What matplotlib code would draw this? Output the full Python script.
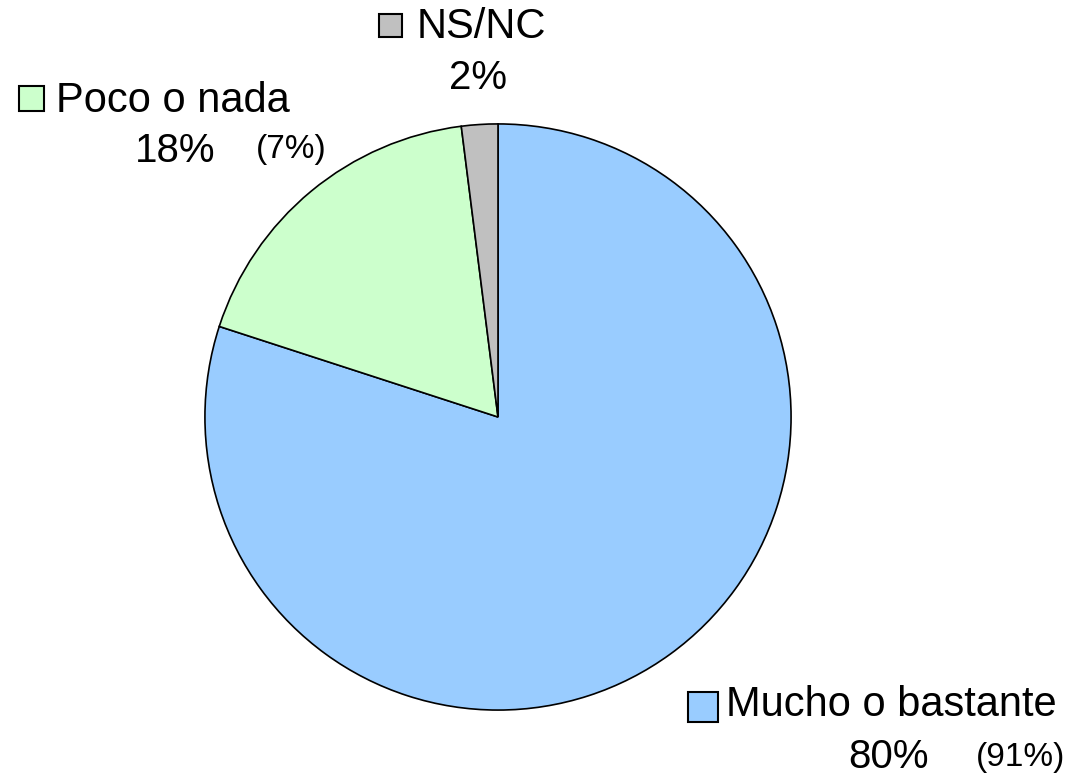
import matplotlib.pyplot as plt
from matplotlib.patches import Rectangle

plt.rcParams['font.family'] = ['Liberation Sans', 'DejaVu Sans']

categorias = ['Mucho o bastante', 'Poco o nada', 'NS/NC']
valores = [80, 18, 2]
previos = ['(91%)', '(7%)', '']
colores = ['#99CCFF', '#CCFFCC', '#C0C0C0']

W, H = 1077, 778
fig = plt.figure(figsize=(W / 100, H / 100), dpi=100)

# pie centre and radius in pixels
cx, cy, r = 498, 417, 296
ax = fig.add_axes([(cx - r) / W, (H - cy - r) / H, 2 * r / W, 2 * r / H])
ax.pie(valores, colors=colores, startangle=90, counterclock=False,
       wedgeprops=dict(edgecolor='black', linewidth=1.2))
ax.set_xlim(-1.01, 1.01)
ax.set_ylim(-1.01, 1.01)
ax.set_aspect('equal')
ax.axis('off')


def px(x, y):
    return x / W, 1 - y / H


# label layout: square box, name, percentage, previous value (pixel coords)
cajas = [(688, 692, 30), (19, 86, 25), (379, 14, 23)]
nombres = [(726, 716), (56, 112), (417, 38)]
pcts = [(889, 768), (175, 162), (478, 89)]
prevs = [(1021, 766), (291, 158), (0, 0)]

for i in range(len(categorias)):
    bx, by, bs = cajas[i]
    x0, y0 = px(bx, by + bs)
    fig.add_artist(Rectangle((x0, y0), bs / W, bs / H, transform=fig.transFigure,
                             facecolor=colores[i], edgecolor='black', linewidth=1.5))
    x, y = px(*nombres[i])
    fig.text(x, y, categorias[i], fontsize=30, ha='left', va='baseline')
    x, y = px(*pcts[i])
    fig.text(x, y, '%d%%' % valores[i], fontsize=29, ha='center', va='baseline')
    if previos[i]:
        x, y = px(*prevs[i])
        fig.text(x, y, previos[i], fontsize=24, ha='center', va='baseline')

fig.savefig('out.png', dpi=100)
